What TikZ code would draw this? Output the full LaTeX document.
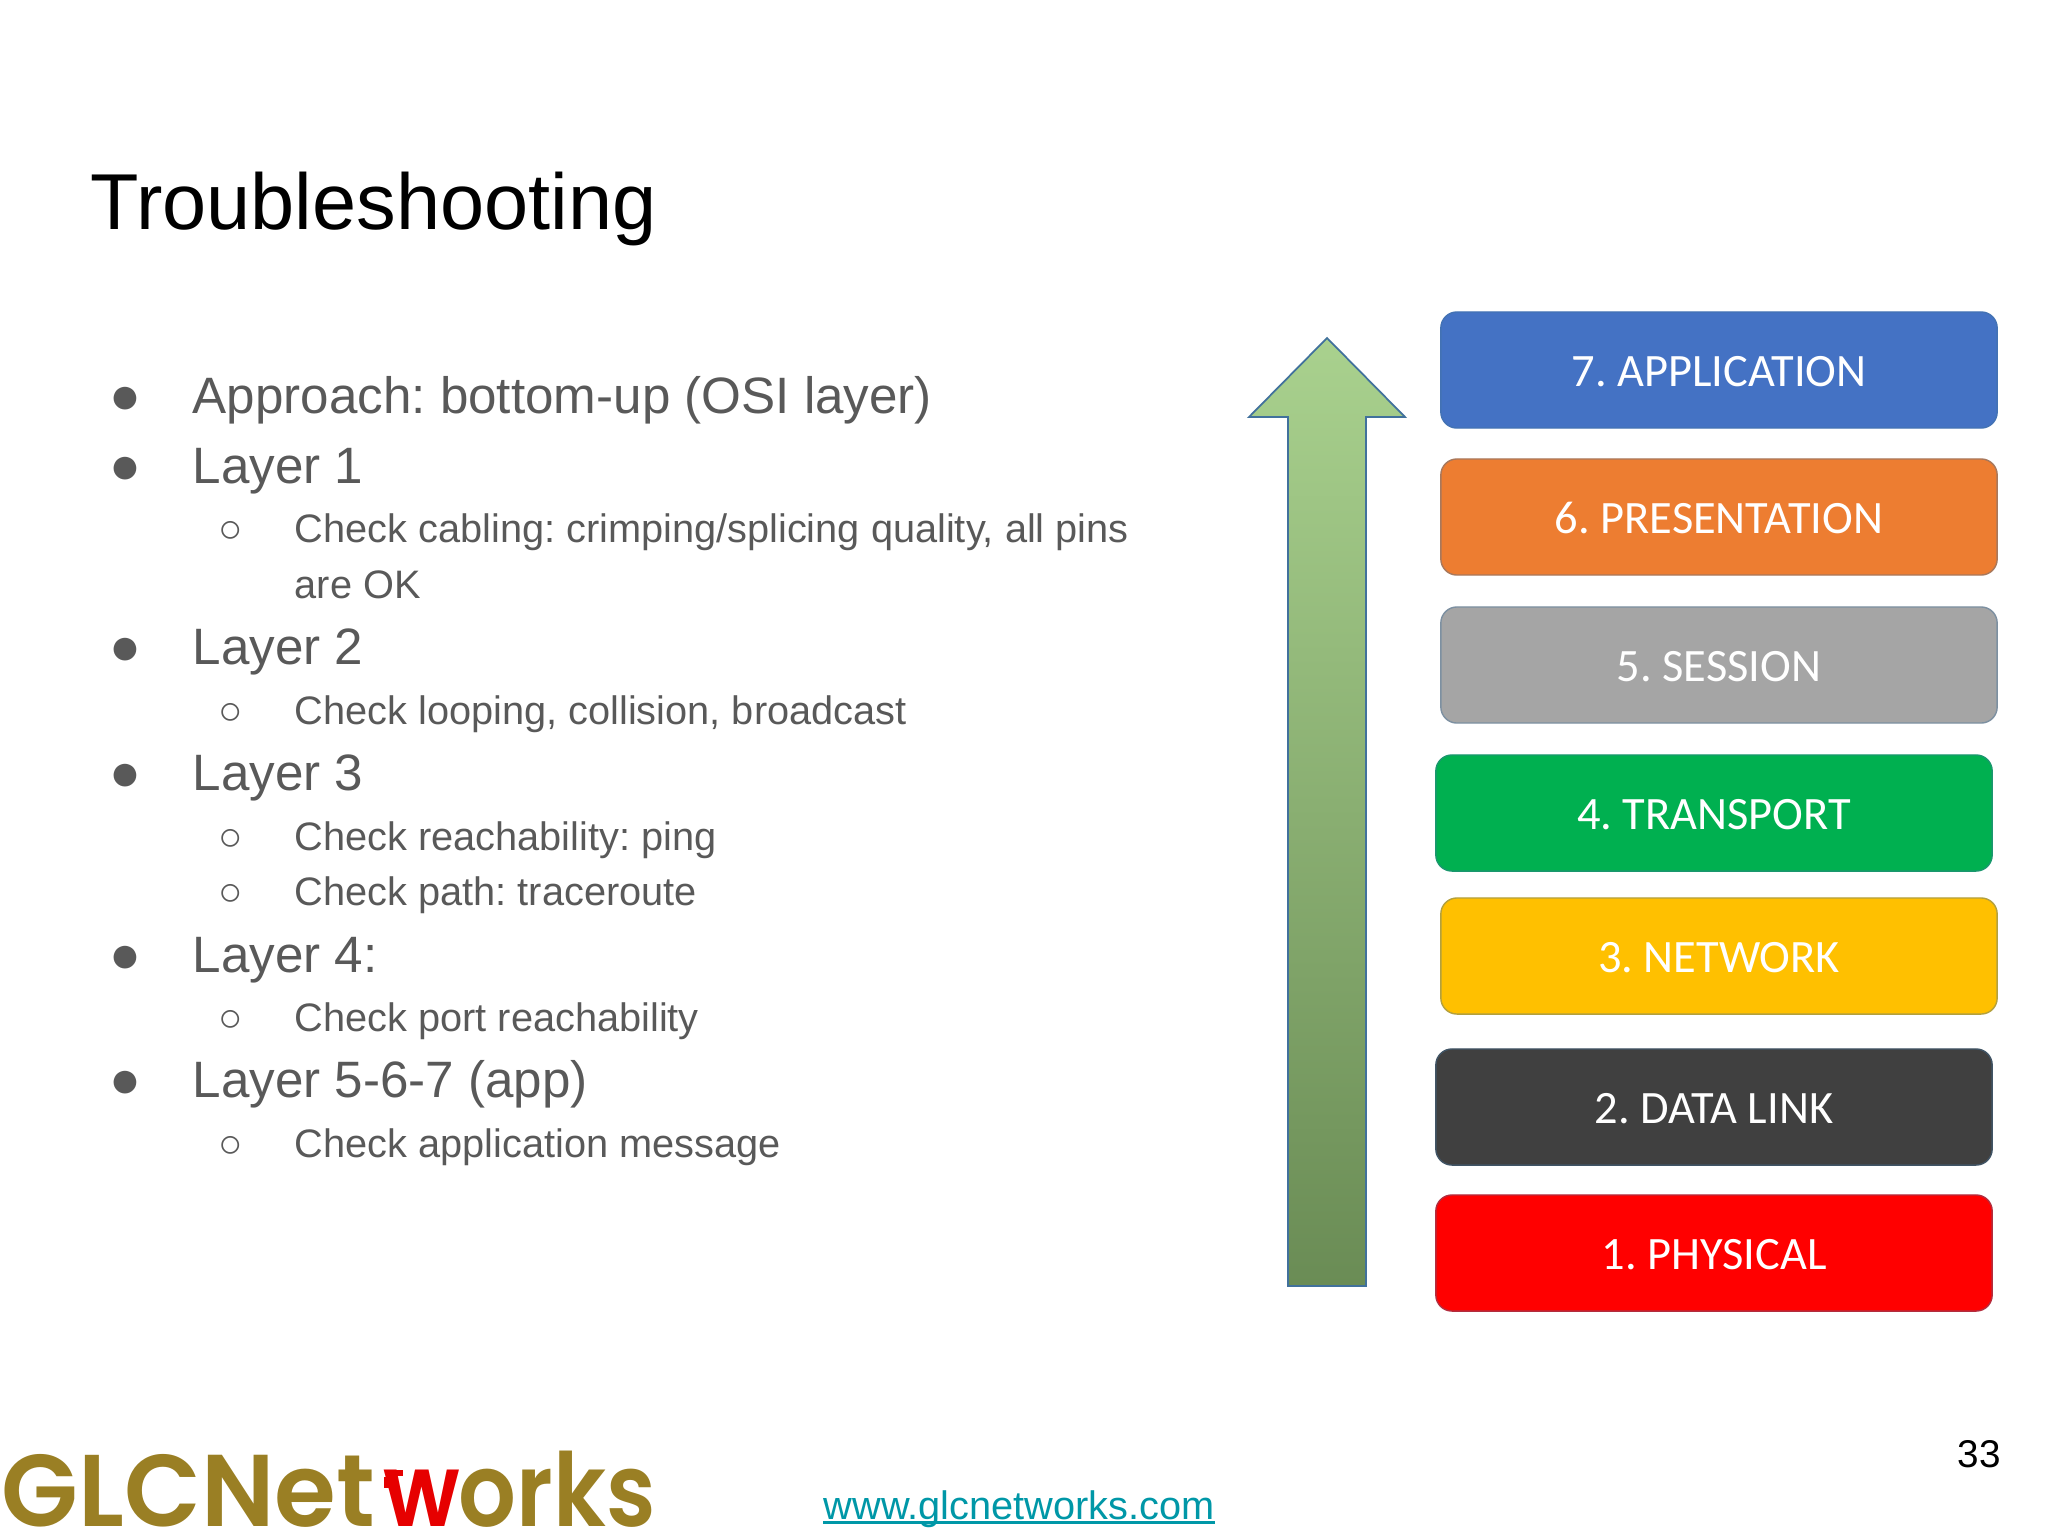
\documentclass[tikz,border=0pt]{standalone}
\usepackage{fontspec}
\setmainfont{Liberation Sans}
\newfontfamily\layerfont{Carlito}
\newfontfamily\logofont[FakeStretch=0.98]{Poppins SemiBold}
\newfontfamily\logofontb[FakeStretch=0.89]{Poppins SemiBold}
\usepackage{tikz}
\frenchspacing
\definecolor{bodygray}{HTML}{595959}
\definecolor{logogold}{HTML}{9A7F24}
\definecolor{logored}{HTML}{E60000}
\definecolor{linkteal}{HTML}{0097A7}
\definecolor{arrowedge}{HTML}{41719C}
\definecolor{arrowtop}{HTML}{A9D18E}
\definecolor{arrowbottom}{HTML}{6A8C55}
\definecolor{blue7}{HTML}{4472C4}
\definecolor{orange6}{HTML}{ED7D31}
\definecolor{gray5}{HTML}{A5A5A5}
\definecolor{green4}{HTML}{00B050}
\definecolor{yellow3}{HTML}{FFC000}
\definecolor{dark2}{HTML}{404040}
\definecolor{red1}{HTML}{FF0000}
\tikzset{
	plain/.style={inner sep=0pt, anchor=base west},
	levelone/.style={plain, text=bodygray, font=\fontsize{14.55}{16}\selectfont},
	leveltwo/.style={plain, text=bodygray, font=\fontsize{11.3}{14}\selectfont},
	dotone/.style={plain, anchor=base, text=bodygray, font=\fontsize{15}{16}\selectfont},
	dottwo/.style={plain, anchor=base, text=bodygray, font=\fontsize{11.5}{14}\selectfont},
	layerbox/.style={draw=#1!60!arrowedge, fill=#1, rounded corners=0.16cm, line width=0.4pt,
		minimum width=5.56cm, minimum height=1.16cm, inner sep=0pt, text=white,
		text height=9.2pt, text depth=0pt, font=\layerfont\fontsize{13.2}{15}\selectfont}
}
\begin{document}
\begin{tikzpicture}[x=0.01cm,y=-0.01cm]
	\useasboundingbox (0,0) rectangle (2048,1536);
	\node[plain, font=\fontsize{22.55}{26}\selectfont] (title) at (90,229) {Troubleshooting};

	\node[dotone] (d1) at (125,413) {●};
	\node[levelone] (t1) at (192,413) {Approach: bottom-up (OSI layer)};
	\node[dotone] (d2) at (125,483) {●};
	\node[levelone] (t2) at (192,483) {Layer 1};
	\node[dottwo] (d3) at (231,542) {○};
	\node[leveltwo] (t3) at (294,542) {Check cabling: crimping/splicing quality, all pins};
	\node[leveltwo] (t4) at (294,598) {are OK};
	\node[dotone] (d5) at (125,664) {●};
	\node[levelone] (t5) at (192,664) {Layer 2};
	\node[dottwo] (d6) at (231,724) {○};
	\node[leveltwo] (t6) at (294,724) {Check looping, collision, broadcast};
	\node[dotone] (d7) at (125,790) {●};
	\node[levelone] (t7) at (192,790) {Layer 3};
	\node[dottwo] (d8) at (231,850) {○};
	\node[leveltwo] (t8) at (294,850) {Check reachability: ping};
	\node[dottwo] (d9) at (231,905) {○};
	\node[leveltwo] (t9) at (294,905) {Check path: traceroute};
	\node[dotone] (d10) at (125,972) {●};
	\node[levelone] (t10) at (192,972) {Layer 4:};
	\node[dottwo] (d11) at (231,1031) {○};
	\node[leveltwo] (t11) at (294,1031) {Check port reachability};
	\node[dotone] (d12) at (125,1097) {●};
	\node[levelone] (t12) at (192,1097) {Layer 5-6-7 (app)};
	\node[dottwo] (d13) at (231,1157) {○};
	\node[leveltwo] (t13) at (294,1157) {Check application message};

	% arrow
	\draw [draw=arrowedge, line width=0.5pt, top color=arrowtop, bottom color=arrowbottom]
		(1327,338) -- (1405,417) -- (1366,417) -- (1366,1286) -- (1288,1286) -- (1288,417) -- (1249,417) -- cycle;

	\node[layerbox=blue7] (app) at (1719,370) {7. APPLICATION};
	\node[layerbox=orange6] (pres) at (1719,517) {6. PRESENTATION};
	\node[layerbox=gray5] (sess) at (1719,665) {5. SESSION};
	\node[layerbox=green4] (trans) at (1714,813) {4. TRANSPORT};
	\node[layerbox=yellow3] (net) at (1719,956) {3. NETWORK};
	\node[layerbox=dark2] (link) at (1714,1107) {2. DATA LINK};
	\node[layerbox=red1] (phys) at (1714,1253) {1. PHYSICAL};

	\node[plain, font=\fontsize{11}{13}\selectfont] (page) at (1957,1467) {33};
	\node[plain, text=linkteal, font=\fontsize{11.3}{13}\selectfont] (url) at (823,1519) {www.glcnetworks.com};
	\draw [linkteal, line width=0.6pt] ([yshift=-0.035cm]url.base west) -- ([yshift=-0.035cm]url.base east);

	% logo
	\node[plain, text=logogold, font=\logofont\fontsize{29}{34}\selectfont] (logoa) at (1,1526) {GLCNet};
	\node[plain, text=logored, font=\logofontb\fontsize{29}{34}\selectfont] (logob) at (383,1526) {w};
	\node[plain, text=logogold, font=\logofontb\fontsize{29}{34}\selectfont] (logoc) at (458,1526) {orks};
	\fill [logored] (384,1477) rectangle (397,1488);
	\fill [logored] (396,1470) rectangle (403,1476);
\end{tikzpicture}
\end{document}
